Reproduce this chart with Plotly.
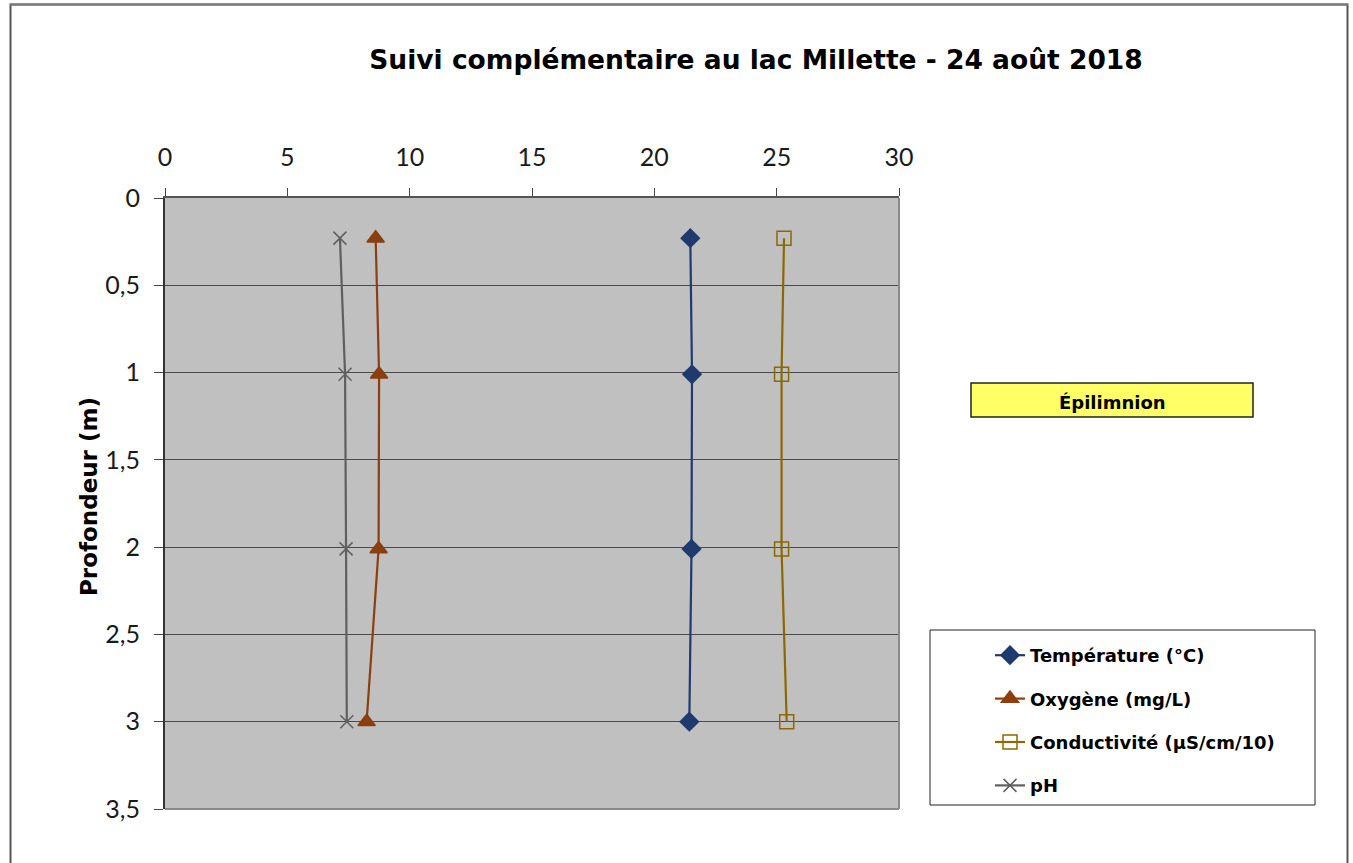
import plotly.graph_objects as go

# ---- data ----
depth = [0.23, 1.01, 2.01, 3.0]
temperature = [21.47, 21.54, 21.52, 21.43]
oxygen = [8.61, 8.75, 8.73, 8.24]
conductivity = [25.30, 25.20, 25.20, 25.41]
ph = [7.15, 7.36, 7.40, 7.43]

series_names = ["Température (°C)", "Oxygène (mg/L)", "Conductivité (µS/cm/10)", "pH"]
title_text = "Suivi complémentaire au lac Millette - 24 août 2018"
y_title = "Profondeur (m)"
zone_label = "Épilimnion"

# ---- layout geometry (page pixels; body margin removed by post_script) ----
W, H = 1353, 863
L, R, T, B = 165, 899, 198, 809
PW, PH = R - L, B - T


def px(x):
    return (x - L) / PW


def py(y):
    return (B - y) / PH


BOLD_FONT = "DejaVu Sans"
TICK_FONT = "Lato"

fig = go.Figure()

styles = [
    dict(color="#1F3A6E", symbol="diamond", size=14, lw=2.2),
    dict(color="#8B3E0E", symbol="triangle-up", size=15, lw=2.2),
    dict(color="#8C6800", symbol="square-open", size=14, lw=2.2),
    dict(color="#5F5F5F", symbol="x-thin-open", size=13, lw=2.2),
]
values = [temperature, oxygen, conductivity, ph]

for i, (name, vals, st) in enumerate(zip(series_names, values, styles)):
    marker = dict(symbol=st["symbol"], size=st["size"], color=st["color"],
                  line=dict(color=st["color"], width=1.5))
    fig.add_trace(go.Scatter(
        x=vals, y=depth, name=name, mode="lines+markers",
        line=dict(color=st["color"], width=st["lw"]),
        marker=marker, legendgroup=f"g{i}",
    ))

shapes = [
    # outer chart border
    dict(type="rect", xref="paper", yref="paper", x0=px(10.5), x1=px(1347.5), y0=py(900), y1=py(4.5),
         line=dict(color="#555555", width=2), fillcolor="rgba(0,0,0,0)", layer="above"),
    dict(type="line", xref="paper", yref="paper", x0=px(10), x1=px(1348), y0=py(4.5), y1=py(4.5),
         line=dict(color="#7a7a7a", width=2)),
    # plot area right & bottom border
    dict(type="line", xref="paper", yref="paper", x0=1, x1=1, y0=0, y1=1,
         line=dict(color="#8a8a8a", width=2)),
    dict(type="line", xref="paper", yref="paper", x0=0, x1=1, y0=0, y1=0,
         line=dict(color="#8a8a8a", width=2)),
    # legend box
    dict(type="rect", xref="paper", yref="paper", x0=px(930), x1=px(1315), y0=py(805), y1=py(630),
         line=dict(color="#222222", width=1), fillcolor="white", layer="below"),
    # epilimnion box
    dict(type="rect", xref="paper", yref="paper", x0=px(971), x1=px(1253), y0=py(417), y1=py(383),
         line=dict(color="#222222", width=1.5), fillcolor="#FFFF66"),
]

annotations = [
    dict(text=zone_label, xref="paper", yref="paper", x=px(1112), y=py(402),
         xanchor="center", yanchor="middle", showarrow=False,
         font=dict(family=BOLD_FONT, size=18, color="black", weight="bold")),
    dict(text=y_title, xref="paper", yref="paper", x=px(89), y=py(497),
         xanchor="center", yanchor="middle", textangle=-90, showarrow=False,
         font=dict(family=BOLD_FONT, size=23, color="black", weight="bold")),
]

fig.update_layout(
    width=W, height=H,
    margin=dict(l=L, r=W - R, t=T, b=H - B, pad=0),
    paper_bgcolor="white",
    plot_bgcolor="#C0C0C0",
    separators=", ",
    title=dict(text=title_text, x=756 / W, xref="container", xanchor="center",
               y=1 - 60 / H, yref="container", yanchor="middle",
               font=dict(family=BOLD_FONT, size=26.5, color="black", weight="bold")),
    xaxis=dict(range=[0, 30], dtick=5, side="top", showgrid=False, zeroline=False,
               ticks="outside", ticklen=8, tickcolor="#444444", tickwidth=1,
               ticklabelstandoff=12,
               showline=True, linecolor="#555555", linewidth=2,
               tickfont=dict(family=TICK_FONT, size=25, color="#1a1a1a")),
    yaxis=dict(range=[3.5, 0], dtick=0.5, showgrid=True, gridcolor="#4a4a4a", gridwidth=1,
               zeroline=False, ticks="outside", ticklen=9, tickcolor="#444444", tickwidth=1,
               ticklabelstandoff=9,
               showline=True, linecolor="#333333", linewidth=2,
               tickfont=dict(family=TICK_FONT, size=25, color="#1a1a1a")),
    shapes=shapes,
    annotations=annotations,
    showlegend=True,
    legend=dict(x=px(990), y=py(637), xanchor="left", yanchor="top",
                bgcolor="rgba(0,0,0,0)", borderwidth=0,
                traceorder="grouped", tracegroupgap=17,
                font=dict(family=BOLD_FONT, size=18, color="black", weight="bold")),
)

fig.write_html(
    "out.html",
    config={"displayModeBar": False},
    post_script="document.body.style.margin='0';document.body.style.overflow='hidden';",
)
